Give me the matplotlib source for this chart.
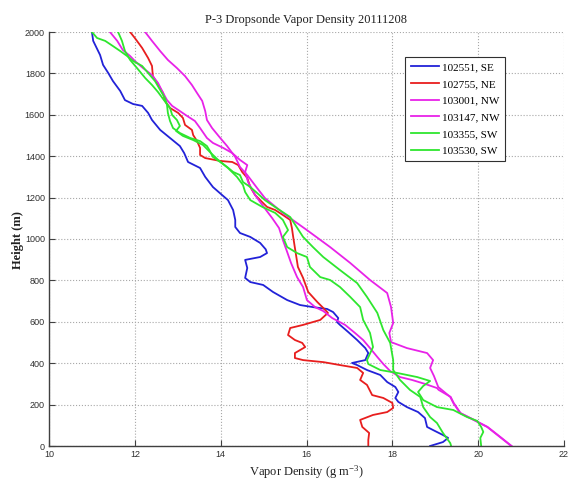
import matplotlib
matplotlib.use('Agg')
import matplotlib.pyplot as plt

# vapor density (g m-3) vs height (m)
blue_rho = [11.00, 11.03, 11.19, 11.26, 11.38, 11.49, 11.66, 11.77, 11.96, 12.17, 12.31, 12.40, 12.59, 12.82,
            13.05, 13.15, 13.24, 13.52, 13.64, 13.82, 14.03, 14.17, 14.29, 14.34, 14.34, 14.45, 14.69, 14.92,
            15.05, 15.08, 14.92, 14.57, 14.62, 14.57, 14.69, 14.99, 15.22, 15.55, 15.85, 16.15, 16.48, 16.62,
            16.74, 16.71, 16.78, 16.97, 17.18, 17.37, 17.44, 17.37, 17.06, 17.18, 17.41, 17.72, 17.88, 18.07,
            18.14, 18.07, 18.14, 18.34, 18.60, 18.76, 18.81, 18.95, 19.18, 19.30, 19.18, 18.88]
blue_z = [2000, 1957, 1889, 1841, 1802, 1763, 1715, 1671, 1652, 1643, 1609, 1575, 1527, 1488,
          1449, 1415, 1372, 1343, 1300, 1251, 1213, 1188, 1140, 1092, 1058, 1029, 1010, 981,
          950, 932, 913, 899, 860, 812, 792, 778, 744, 705, 681, 671, 662, 647,
          618, 599, 585, 551, 512, 473, 449, 415, 401, 391, 367, 343, 309, 285,
          261, 232, 213, 188, 164, 135, 92, 77, 53, 39, 19, 0]

red_rho = [11.89, 12.00, 12.17, 12.31, 12.40, 12.42, 12.54, 12.66, 12.70, 12.82, 13.01, 13.12, 13.17, 13.33,
           13.36, 13.45, 13.52, 13.52, 13.64, 13.99, 14.27, 14.41, 14.50, 14.62, 14.69, 14.80, 14.92, 15.08,
           15.27, 15.45, 15.62, 15.66, 15.69, 15.73, 15.80, 15.92, 16.04, 16.25, 16.39, 16.50, 16.32, 15.92,
           15.62, 15.57, 15.73, 15.90, 15.97, 15.73, 15.73, 15.92, 16.40, 16.78, 17.18, 17.32, 17.25, 17.41,
           17.53, 17.79, 18.00, 18.02, 17.88, 17.55, 17.25, 17.30, 17.46, 17.44, 17.44]
red_z = [2000, 1971, 1923, 1874, 1836, 1787, 1744, 1705, 1667, 1633, 1609, 1585, 1551, 1527,
         1502, 1473, 1440, 1406, 1391, 1377, 1372, 1357, 1324, 1295, 1251, 1213, 1188, 1155,
         1140, 1116, 1092, 1053, 1010, 957, 865, 812, 744, 696, 667, 643, 609, 585,
         570, 536, 512, 498, 478, 449, 425, 415, 405, 391, 377, 353, 319, 295,
         246, 232, 208, 184, 164, 150, 126, 92, 63, 29, 0]

mag1_rho = [12.24, 12.40, 12.59, 12.77, 12.98, 13.17, 13.33, 13.45, 13.57, 13.64, 13.68, 13.80, 13.99, 14.15,
            14.34, 14.45, 14.62, 14.85, 15.03, 15.45, 16.01, 16.55, 17.02, 17.48, 17.88, 17.97, 18.02, 17.93,
            17.97, 18.34, 18.81, 18.95, 18.88, 18.97, 19.07, 19.35, 19.42, 19.58, 19.81, 20.21, 20.51, 20.77]
mag1_z = [2000, 1957, 1908, 1865, 1826, 1787, 1744, 1705, 1667, 1618, 1575, 1536, 1488, 1449,
          1396, 1348, 1309, 1246, 1198, 1126, 1043, 961, 884, 802, 739, 671, 594, 546,
          502, 473, 449, 415, 377, 338, 285, 237, 208, 159, 135, 92, 43, 0]

mag2_rho = [11.42, 11.59, 11.72, 11.89, 12.00, 12.19, 12.40, 12.54, 12.66, 12.75, 12.87, 13.05, 13.22, 13.40,
            13.52, 13.68, 13.82, 14.06, 14.27, 14.45, 14.62, 14.57, 14.64, 14.80, 14.97, 15.20, 15.36, 15.45,
            15.55, 15.64, 15.78, 15.92, 16.01, 16.20, 16.39, 16.60, 16.90, 17.13, 17.32, 17.48, 17.65, 17.79,
            17.95, 18.18, 18.46, 18.76, 19.04, 19.08, 19.36, 19.43, 19.59, 19.82, 20.22, 20.52, 20.78]
mag2_z = [2000, 1957, 1913, 1884, 1860, 1826, 1792, 1754, 1705, 1671, 1643, 1618, 1594, 1570,
          1536, 1488, 1464, 1440, 1415, 1382, 1357, 1324, 1275, 1213, 1164, 1101, 1053, 995,
          937, 884, 816, 768, 705, 671, 652, 618, 585, 546, 512, 473, 430, 396,
          362, 333, 319, 300, 280, 271, 237, 208, 159, 135, 92, 43, 0]

grn1_rho = [11.00, 11.12, 11.31, 11.49, 11.66, 11.82, 11.96, 12.17, 12.35, 12.47, 12.59, 12.70, 12.75, 12.77,
            12.82, 12.89, 13.05, 13.29, 13.52, 13.68, 13.75, 13.82, 13.99, 14.15, 14.29, 14.45, 14.52, 14.69,
            14.85, 15.03, 15.30, 15.62, 15.92, 16.15, 16.39, 16.78, 17.18, 17.41, 17.65, 17.79, 17.95, 18.02,
            18.02, 18.18, 18.41, 18.65, 18.72, 18.88, 19.04, 19.18, 19.35, 19.37]
grn1_z = [2000, 1971, 1957, 1932, 1908, 1884, 1860, 1836, 1792, 1763, 1720, 1681, 1647, 1609,
          1570, 1536, 1512, 1488, 1473, 1449, 1425, 1396, 1372, 1348, 1324, 1309, 1275, 1251,
          1222, 1188, 1150, 1106, 1010, 961, 913, 850, 787, 720, 643, 560, 498, 415,
          367, 319, 271, 237, 188, 140, 111, 63, 14, 0]

grn2_rho = [11.61, 11.70, 11.77, 11.89, 12.05, 12.24, 12.40, 12.54, 12.66, 12.82, 12.87, 12.98, 13.05, 12.96,
            13.12, 13.36, 13.59, 13.75, 13.94, 14.17, 14.38, 14.52, 14.57, 14.69, 14.97, 15.27, 15.45, 15.57,
            15.45, 15.55, 15.78, 16.01, 16.08, 16.32, 16.55, 16.78, 17.02, 17.25, 17.32, 17.48, 17.55, 17.41,
            17.44, 17.72, 18.11, 18.58, 18.88, 18.72, 18.60, 18.72, 19.04, 19.42, 19.74, 19.98, 20.07, 20.12,
            20.05, 20.07]
grn2_z = [2000, 1957, 1908, 1865, 1826, 1778, 1744, 1710, 1676, 1633, 1599, 1575, 1546, 1522,
          1498, 1478, 1454, 1420, 1382, 1343, 1300, 1261, 1227, 1188, 1155, 1126, 1092, 1043,
          1010, 961, 932, 913, 865, 816, 802, 768, 720, 671, 609, 546, 478, 415,
          396, 367, 353, 333, 314, 290, 261, 222, 188, 174, 140, 121, 92, 68,
          39, 0]

labels = ['102551, SE', '102755, NE', '103001, NW', '103147, NW', '103355, SW', '103530, SW']
x_ticks = [10, 12, 14, 16, 18, 20, 22]
y_ticks = list(range(0, 2001, 200))

plt.rcParams['mathtext.fontset'] = 'custom'
plt.rcParams['mathtext.rm'] = 'Liberation Serif'
plt.rcParams['mathtext.it'] = 'Liberation Serif:italic'

serif = 'Liberation Serif'
sans = 'Liberation Sans'

fig = plt.figure(figsize=(5.7, 4.83), dpi=100)
ax = fig.add_axes([49 / 570, 37 / 483, 515 / 570, 414 / 483])

series = [
    (blue_rho, blue_z, '#2222d8'),
    (red_rho, red_z, '#e81e1e'),
    (mag1_rho, mag1_z, '#e822e8'),
    (mag2_rho, mag2_z, '#e822e8'),
    (grn1_rho, grn1_z, '#2ee62e'),
    (grn2_rho, grn2_z, '#2ee62e'),
]
for (rho, z, color), label in zip(series, labels):
    ax.plot(rho, z, color=color, linewidth=1.3, label=label)

ax.set_xlim(10, 22)
ax.set_ylim(0, 2000)
ax.set_xticks(x_ticks)
ax.set_yticks(y_ticks)
ax.grid(True, linestyle=':', linewidth=0.8, color='#a8a8a8')

for side in ['top', 'right']:
    ax.spines[side].set_visible(False)
for side in ['left', 'bottom']:
    ax.spines[side].set_color('#404040')
    ax.spines[side].set_linewidth(1.0)

ax.tick_params(direction='in', length=4, width=0.8, colors='#404040', pad=3)
for lab in ax.get_xticklabels() + ax.get_yticklabels():
    lab.set_fontfamily(sans)
    lab.set_fontsize(6.5)
    lab.set_color('#303030')

fig.text(306 / 570, 1 - 20 / 483, 'P-3 Dropsonde Vapor Density 20111208', family=serif,
         fontsize=9, ha='center', va='center', color='#202020')
fig.text(306 / 570, 1 - 472 / 483, 'Vapor Density (g m$^{-3}$)', family=serif,
         fontsize=9, ha='center', va='center', color='#202020')
fig.text(18 / 570, 1 - 240 / 483, 'Height (m)', family=serif, fontsize=9, fontweight='bold',
         rotation=90, ha='center', va='center', color='#202020')

leg = ax.legend(loc='upper left', bbox_to_anchor=(405 / 570, 1 - 57 / 483),
                bbox_transform=fig.transFigure, borderaxespad=0, fancybox=False,
                framealpha=1, edgecolor='#303030', handlelength=2.6, handletextpad=0.2,
                labelspacing=0.62, borderpad=0.5, prop={'family': serif, 'size': 8})
leg.get_frame().set_linewidth(0.8)

fig.savefig('out.png', dpi=100)
plt.close(fig)
